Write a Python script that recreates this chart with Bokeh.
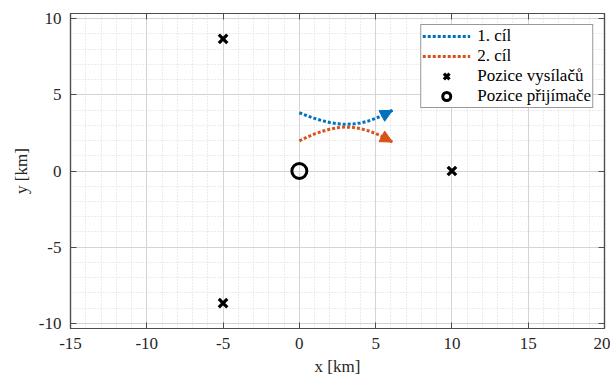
from bokeh.plotting import figure
from bokeh.models import (Range1d, LinearAxis, FixedTicker, Legend, LegendItem,
                          Arrow, NormalHead)
from bokeh.embed import file_html
from bokeh.resources import INLINE

# ---- data ----
traj_x = [0, 0.5, 1, 1.5, 2, 2.5, 3, 3.5, 4, 4.5, 5, 5.5, 6.1]
cil1_y = [3.82, 3.62, 3.45, 3.30, 3.18, 3.10, 3.06, 3.08, 3.15, 3.27, 3.45, 3.66, 3.98]
cil2_y = [1.98, 2.22, 2.43, 2.60, 2.74, 2.84, 2.88, 2.86, 2.78, 2.64, 2.46, 2.22, 1.90]
tx_x = [-5, -5, 10]
tx_y = [8.66, -8.66, 0]
rx_x = [0]
rx_y = [0]
x_ticks = [-15, -10, -5, 0, 5, 10, 15, 20]
y_ticks = [-10, -5, 0, 5, 10]
x_minor = list(range(-15, 21))
y_minor = list(range(-10, 11))
legend_labels = ["1. cíl", "2. cíl", "Pozice vysílačů", "Pozice přijímače"]
x_label = "x [km]"
y_label = "y [km]"

BLUE = "#0072BD"
ORANGE = "#D95319"
FONT = "Liberation Serif"
AX = "#4d4d4d"

p = figure(width=610, height=378, output_backend="svg", toolbar_location=None,
           x_range=Range1d(-15, 20), y_range=Range1d(-10.33, 10.33),
           min_border_left=70, min_border_right=6, min_border_top=13, min_border_bottom=50)
p.xaxis.visible = False
p.yaxis.visible = False
p.outline_line_color = AX
p.outline_line_width = 1.2

xt = FixedTicker(ticks=x_ticks, minor_ticks=x_minor)
yt = FixedTicker(ticks=y_ticks, minor_ticks=y_minor)

def style_axis(ax, ticks, show_labels):
    ax.axis_line_color = AX
    ax.axis_line_width = 1.2
    ax.major_tick_in = 6
    ax.major_tick_out = 0
    ax.minor_tick_in = 0
    ax.minor_tick_out = 0
    ax.major_tick_line_color = AX
    ax.major_label_text_font = FONT
    ax.major_label_text_color = "#262626"
    ax.axis_label_text_font = FONT
    ax.axis_label_text_font_size = "17px"
    ax.axis_label_text_font_style = "normal"
    ax.axis_label_text_color = "#262626"
    if show_labels:
        ax.major_label_text_font_size = "17px"
        ax.major_label_standoff = 9
        ax.major_label_overrides = {t: str(t) for t in ticks}
    else:
        ax.major_label_standoff = 0
        ax.major_label_overrides = {t: "" for t in ticks}

bx = LinearAxis(ticker=xt); style_axis(bx, x_ticks, True); p.add_layout(bx, "below")
ly = LinearAxis(ticker=yt); style_axis(ly, y_ticks, True); p.add_layout(ly, "left")
tx = LinearAxis(ticker=xt); style_axis(tx, x_ticks, False); p.add_layout(tx, "above")
ry = LinearAxis(ticker=yt); style_axis(ry, y_ticks, False); p.add_layout(ry, "right")

bx.axis_label = x_label
bx.axis_label_standoff = 5
ly.axis_label = y_label
ly.axis_label_standoff = 5

for g, t in ((p.xgrid, xt), (p.ygrid, yt)):
    g.ticker = t
    g.grid_line_color = "#d4d4d4"
    g.grid_line_width = 1
    g.minor_grid_line_color = "#d8d8d8"
    g.minor_grid_line_dash = "1 2"
    g.minor_grid_line_width = 1

r1 = p.line(traj_x, cil1_y, line_color=BLUE, line_width=3, line_dash="3 2")
r2 = p.line(traj_x, cil2_y, line_color=ORANGE, line_width=3, line_dash="3 2")
for ys, c in ((cil1_y, BLUE), (cil2_y, ORANGE)):
    p.add_layout(Arrow(end=NormalHead(size=12, fill_color=c, line_color=c, line_width=1),
                       x_start=traj_x[-2], y_start=ys[-2], x_end=traj_x[-1], y_end=ys[-1],
                       line_alpha=0))
r3 = p.scatter(tx_x, tx_y, marker="x", size=12, line_color="black", line_width=3.2)
r4 = p.scatter(rx_x, rx_y, marker="circle", size=15, fill_color=None,
               line_color="black", line_width=3)

legend = Legend(items=[LegendItem(label=l, renderers=[r]) for l, r in
                       zip(legend_labels, [r1, r2, r3, r4])],
                location="top_right", margin=11, padding=1, spacing=0,
                glyph_width=48, glyph_height=20, label_height=19, label_standoff=7,
                label_text_font=FONT, label_text_font_size="17px",
                label_text_color="#000000",
                border_line_color="#333333", border_line_width=1,
                background_fill_color="white", background_fill_alpha=1)
p.add_layout(legend)

open("out.html", "w").write(file_html(p, INLINE))
